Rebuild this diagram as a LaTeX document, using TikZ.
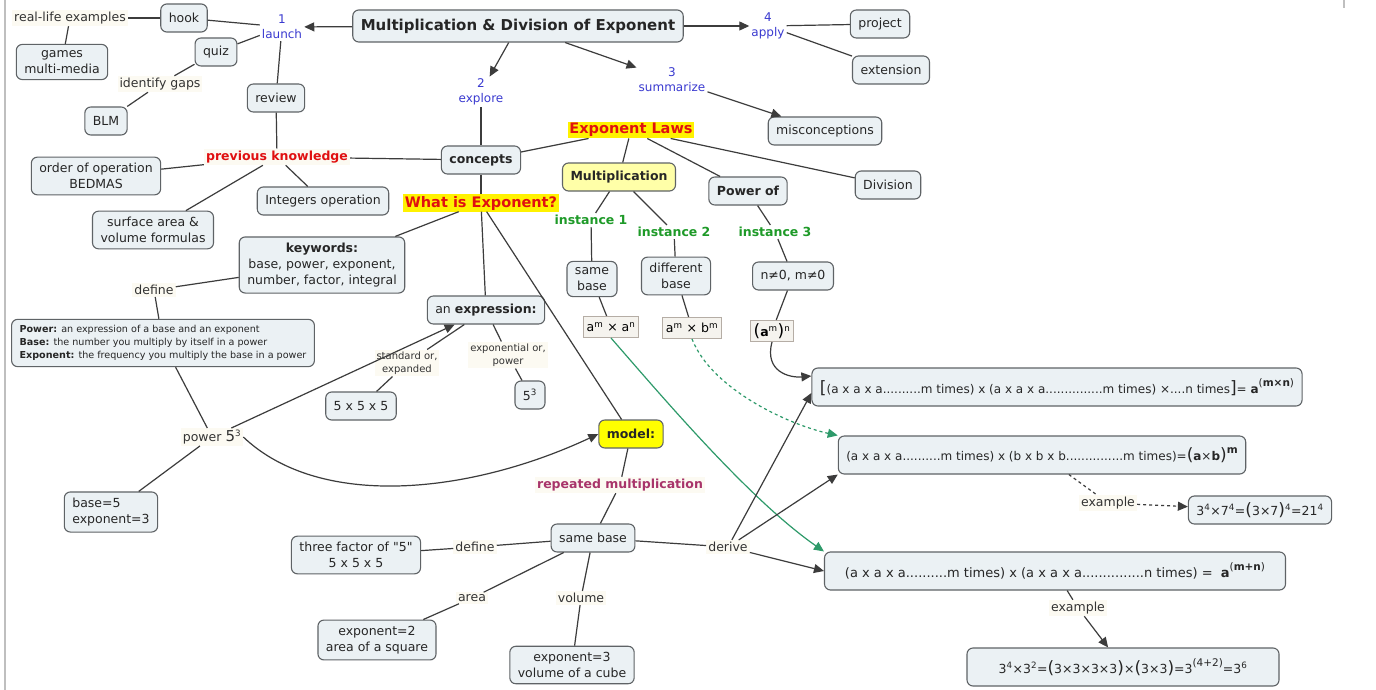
\documentclass[tikz,border=0pt]{standalone}
\usepackage{fontspec}
\setmainfont{DejaVu Sans}[Ligatures=TeXOff]
\usetikzlibrary{arrows.meta}
\definecolor{boxfill}{HTML}{EBF1F4}
\definecolor{boxline}{HTML}{5F6366}
\definecolor{lineclr}{HTML}{3C3C3C}
\definecolor{phaseclr}{HTML}{3A3AD0}
\definecolor{redclr}{HTML}{E01010}
\definecolor{hiliteclr}{HTML}{FFF200}
\definecolor{greenclr}{HTML}{1E9A28}
\definecolor{purpleclr}{HTML}{A8346A}
\definecolor{paleyellow}{HTML}{FFFFA8}
\definecolor{modelyellow}{HTML}{FFFF00}
\definecolor{linkfill}{HTML}{FCFAF2}
\definecolor{formfill}{HTML}{F5F3EE}
\definecolor{formline}{HTML}{B5ADA5}
\definecolor{greenarr}{HTML}{2E9A6A}
\newcommand{\sups}[1]{\textsuperscript{#1}}
\newcommand{\bigsym}[1]{{\fontsize{17}{17}\selectfont #1}}
\newcommand{\supbig}[1]{\raisebox{1.0ex}{\fontsize{10.5}{10.5}\selectfont #1}}

\begin{document}
\fontsize{12.5}{16}\selectfont
\begin{tikzpicture}[
  x=1pt, y=-1pt,
  concept/.style={
    rectangle, rounded corners=6pt, draw=boxline, line width=1.1pt,
    fill=boxfill, text=black!85, align=center,
    inner xsep=8pt, inner ysep=6pt, minimum height=28pt,
  },
  link/.style={fill=linkfill, text=black!80, align=center, inner sep=2pt},
  phase/.style={text=phaseclr, align=center, inner sep=2pt, font=\fontsize{12}{15}\selectfont},
  hilite/.style={fill=hiliteclr, text=redclr, inner sep=1.5pt, font=\bfseries\fontsize{14.5}{16}\selectfont},
  inst/.style={text=greenclr, inner sep=2pt, font=\bfseries},
  formula/.style={rectangle, draw=formline, fill=formfill, line width=1pt, inner xsep=3pt, inner ysep=3pt, minimum height=21pt},
  smalltxt/.style={font=\fontsize{10}{13}\selectfont},
  lawbox/.style={concept, font=\fontsize{12}{16}\selectfont, minimum height=38pt},
  conn/.style={draw=lineclr, line width=1.2pt},
  arr/.style={conn, -{Triangle[length=10pt,width=9pt]}},
  garr/.style={draw=greenarr, line width=1.2pt, -{Triangle[length=10pt,width=9pt]}},
]
\useasboundingbox (0,0) rectangle (1376,690);
\fill[white] (0,0) rectangle (1376,690);
\draw[black!25, line width=2pt] (5,0) -- (5,690);
\draw[black!25, line width=2pt] (1344,0) -- (1344,8);

% Title and phases
\node[concept, font=\bfseries\fontsize{15}{17}\selectfont, minimum height=32pt] (title) at (518,26) {Multiplication \& Division of Exponent};
\node[phase] (launch) at (282,27) {1\\launch};
\node[phase] (explore) at (481,92) {2\\explore};
\node[phase] (summ) at (672,80) {3\\summarize};
\node[phase] (apply) at (768,26) {4\\apply};

% Launch branch
\node[concept] (hook) at (184,18) {hook};
\node[link] (real) at (70,18) {real-life examples};
\node[concept] (games) at (62,62) {games\\multi-media};
\node[concept] (quiz) at (216,52) {quiz};
\node[link] (gaps) at (160,84) {identify gaps};
\node[concept] (blm) at (106,121) {BLM};
\node[concept] (review) at (276,98) {review};
\node[link, text=redclr, font=\bfseries] (prev) at (277,157) {previous knowledge};
\node[concept] (order) at (96,176) {order of operation\\BEDMAS};
\node[concept] (surf) at (153,230) {surface area \&\\volume formulas};
\node[concept] (integ) at (323,201) {Integers operation};

% Apply and summarize
\node[concept] (proj) at (880,24) {project};
\node[concept] (ext) at (891,70) {extension};
\node[concept] (misc) at (825,131) {misconceptions};

% Concepts and exponent laws
\node[concept, font=\bfseries] (concepts) at (481,160) {concepts};
\node[hilite] (laws) at (631,130) {Exponent Laws};
\node[concept, fill=paleyellow, font=\bfseries] (mult) at (619,177) {Multiplication};
\node[concept, font=\bfseries] (powof) at (748,191) {Power of};
\node[concept] (div) at (888,185) {Division};
\node[inst] (inst1) at (591,220) {instance 1};
\node[inst] (inst2) at (674,232) {instance 2};
\node[inst] (inst3) at (775,232) {instance 3};
\node[concept] (same1) at (592,279) {same\\base};
\node[concept] (diff) at (676,276) {different\\base};
\node[concept] (nonzero) at (793,276) {n≠0, m≠0};
\node[formula] (fmult) at (611,327) {a\sups{m} × a\sups{n}};
\node[formula] (fdiff) at (692,328) {a\sups{m} × b\sups{m}};
\node[formula] (fpow) at (772,331) {\bigsym{(}\textbf{a}\sups{m}\bigsym{)}\sups{n}};

% What is Exponent?
\node[hilite] (what) at (481,203) {What is Exponent?};
\node[concept] (keys) at (322,265) {\textbf{keywords:}\\base, power, exponent,\\number, factor, integral};
\node[link] (def1) at (154,290) {define};
\node[concept, align=left, font=\fontsize{9.6}{13}\selectfont] (defs) at (163,343) {\textbf{Power:} an expression of a base and an exponent\\\textbf{Base:} the number you multiply by itself in a power\\\textbf{Exponent:} the frequency you multiply the base in a power};
\node[concept] (expr) at (486,310) {an \textbf{expression:}};
\node[link, smalltxt] (std) at (407,363) {standard or,\\expanded};
\node[link, smalltxt] (expo) at (508,355) {exponential or,\\power};
\node[concept] (five3) at (361,406) {5 x 5 x 5};
\node[concept] (fivepow) at (530,395) {5\sups{3}};
\node[link] (power) at (212,437) {power {\fontsize{15}{16}\selectfont 5}\sups{3}};
\node[concept, fill=modelyellow, font=\bfseries] (model) at (631,434) {model:};
\node[link, text=purpleclr, font=\bfseries] (rep) at (620,485) {repeated multiplication};
\node[concept, align=left] (base5) at (111,512) {base=5\\exponent=3};

% Same base and its derivations
\node[concept] (same2) at (593,538) {same base};
\node[link] (def2) at (475,547) {define};
\node[concept] (three) at (356,555) {three factor of "5"\\5 x 5 x 5};
\node[link] (derive) at (728,547) {derive};
\node[link] (area) at (472,598) {area};
\node[link] (vol) at (581,598) {volume};
\node[concept] (sq) at (377,640) {exponent=2\\area of a square};
\node[concept] (cube) at (572,665) {exponent=3\\volume of a cube};

% Expanded laws and examples
\node[lawbox] (lawpow) at (1057,387) {\bigsym{[}(a x a x a..........m times) x (a x a x a...............m times) ×....n times\bigsym{]}= \textbf{a}\supbig{(\textbf{m×n})}};
\node[lawbox] (lawdiff) at (1042,455) {(a x a x a..........m times) x (b x b x b...............m times)=\bigsym{(}\textbf{a}×\textbf{b}\bigsym{)}\supbig{\textbf{m}}};
\node[link] (ex1) at (1108,503) {example};
\node[concept] (ex1box) at (1260,510) {3\sups{4}×7\sups{4}=\bigsym{(}3×7\bigsym{)}\sups{4}=21\sups{4}};
\node[lawbox, font=\fontsize{13}{16}\selectfont, minimum width=461pt] (lawmult) at (1055,571) {(a x a x a..........m times) x (a x a x a...............n times) = \ \textbf{a}\supbig{(\textbf{m+n})}};
\node[link] (ex2) at (1078,608) {example};
\node[concept, minimum width=312pt, minimum height=38pt] (ex2box) at (1123,667) {3\sups{4}×3\sups{2}=\bigsym{(}3×3×3×3\bigsym{)}×\bigsym{(}3×3\bigsym{)}=3\supbig{(4+2)}=3\sups{6}};

% Arrows: title to phases
\draw[arr] (title) -- (launch);
\draw[arr] (title) -- (explore);
\draw[arr] (title) -- (summ);
\draw[arr] (title) -- (apply);

% Launch links
\draw[conn] (launch) -- (hook);
\draw[conn] (hook) -- (real);
\draw[conn] (real) -- (games);
\draw[conn] (launch) -- (quiz);
\draw[conn] (quiz) -- (gaps);
\draw[conn] (gaps) -- (blm);
\draw[conn] (launch) -- (review);
\draw[conn] (review) -- (prev);
\draw[conn] (prev) -- (order);
\draw[conn] (prev) -- (surf);
\draw[conn] (prev) -- (integ);
\draw[conn] (concepts) -- (prev);

% Apply, summarize, explore
\draw[conn] (apply) -- (proj);
\draw[conn] (apply) -- (ext);
\draw[arr] (summ) -- (misc);
\draw[conn] (explore) -- (concepts);

% Exponent laws
\draw[conn] (concepts) -- (laws);
\draw[conn] (laws) -- (mult);
\draw[conn] (laws) -- (powof);
\draw[conn] (laws) -- (div);
\draw[conn] (mult) -- (inst1);
\draw[conn] (mult) -- (inst2);
\draw[conn] (inst1) -- (same1);
\draw[conn] (inst2) -- (diff);
\draw[conn] (powof) -- (inst3);
\draw[conn] (inst3) -- (nonzero);
\draw[conn] (same1) -- (fmult);
\draw[conn] (diff) -- (fdiff);
\draw[conn] (nonzero) -- (fpow);
\draw[arr] (fpow.south) .. controls (764,372) and (790,378) .. ([yshift=11pt]lawpow.west);
\draw[garr, dashed] (fdiff.south) .. controls (712,390) and (790,425) .. (lawdiff.north west);
\draw[garr] (fmult.south) .. controls (665,400) and (750,500) .. (lawmult.north west);

% What is Exponent? links
\draw[conn] (concepts) -- (what);
\draw[conn] (what) -- (keys);
\draw[conn] (what) -- (expr);
\draw[conn] (what) -- (model);
\draw[conn] (keys) -- (def1);
\draw[conn] (def1) -- (defs);
\draw[conn] (defs) -- (power);
\draw[arr] (power) -- (expr);
\draw[arr] (power.east) .. controls (320,510) and (470,494) .. (model.west);
\draw[conn] (power) -- (base5);
\draw[conn] (expr) -- (std);
\draw[conn] (std) -- (five3);
\draw[conn] (expr) -- (expo);
\draw[conn] (expo) -- (fivepow);
\draw[conn] (model) -- (rep);
\draw[conn] (rep) -- (same2);

% Same base links
\draw[conn] (same2) -- (def2);
\draw[conn] (def2) -- (three);
\draw[conn] (same2) -- (area);
\draw[conn] (area) -- (sq);
\draw[conn] (same2) -- (vol);
\draw[conn] (vol) -- (cube);
\draw[conn] (same2) -- (derive);
\draw[arr] (derive) -- ([yshift=-6pt]lawpow.west);
\draw[arr] (derive) -- (lawdiff.south west);
\draw[arr] (derive) -- (lawmult.west);

% Examples
\draw[conn, dashed] (lawdiff) -- (ex1);
\draw[arr, dashed] (ex1) -- (ex1box);
\draw[conn] (lawmult) -- (ex2);
\draw[arr] (ex2) -- (ex2box);

\end{tikzpicture}
\end{document}
